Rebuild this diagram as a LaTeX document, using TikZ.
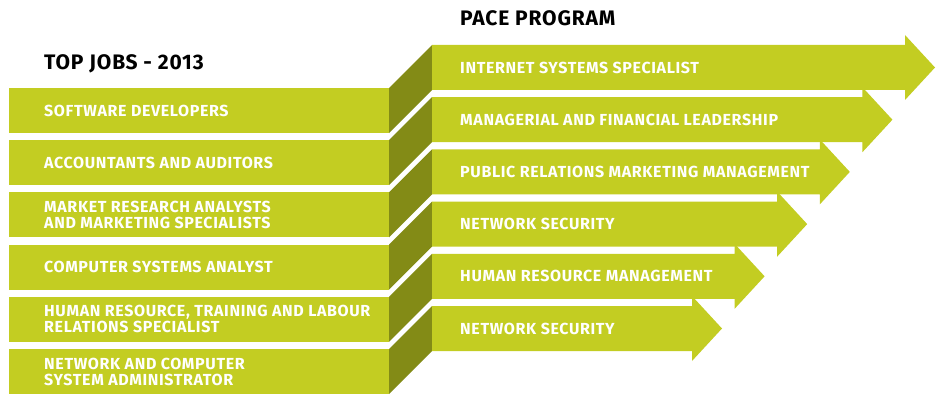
\documentclass[tikz,border=0pt]{standalone}
\usepackage{fontspec}
\setmainfont{Fira Sans}[LetterSpace=4]
\definecolor{limegreen}{RGB}{195,205,34}
\definecolor{olivedark}{RGB}{131,139,22}
\begin{document}
\begin{tikzpicture}[x=1pt,y=-1pt,
  boxtext/.style={anchor=west, text=white, font=\bfseries\fontsize{16}{16}\selectfont, align=left, inner sep=0pt},
  titletext/.style={anchor=west, text=black, font=\bfseries\fontsize{21}{22}\selectfont, inner sep=0pt},
  lbox/.style={fill=limegreen},
  sidepanel/.style={fill=olivedark},
  rarrow/.style={fill=limegreen}]
\useasboundingbox (0,0) rectangle (941,393);
\clip (0,0) rectangle (941,393);
\foreach \i in {0,...,5} {
  \pgfmathsetmacro\yl{88+52.2*\i}
  \pgfmathsetmacro\yr{\yl-43}
  \pgfmathsetmacro\xb{905-42.6*\i}
  \fill[lbox] (9,\yl) rectangle (389,\yl+45);
  \fill[sidepanel] (389,\yl) -- (432,\yr) -- (432,\yr+45) -- (389,\yl+45) -- cycle;
  \fill[rarrow] (432,\yr) -- (\xb,\yr) -- (\xb,\yr-10) -- (\xb+30,\yr+22.5) -- (\xb,\yr+55) -- (\xb,\yr+45) -- (432,\yr+45) -- cycle;
}
\node[titletext] (tjobs) at (44,64) {TOP JOBS - 2013};
\node[titletext] (tpace) at (460,18) {PACE PROGRAM};
\node[boxtext] (l1) at (44,110.5) {SOFTWARE DEVELOPERS};
\node[boxtext] (l2) at (44,162.7) {ACCOUNTANTS AND AUDITORS};
\node[boxtext] (l3) at (44,214.9) {MARKET RESEARCH ANALYSTS\\AND MARKETING SPECIALISTS};
\node[boxtext] (l4) at (44,267.1) {COMPUTER SYSTEMS ANALYST};
\node[boxtext] (l5) at (44,319.3) {HUMAN RESOURCE, TRAINING AND LABOUR\\RELATIONS SPECIALIST};
\node[boxtext] (l6) at (44,371.5) {NETWORK AND COMPUTER\\SYSTEM ADMINISTRATOR};
\node[boxtext] (r1) at (460,67.5) {INTERNET SYSTEMS SPECIALIST};
\node[boxtext] (r2) at (460,119.7) {MANAGERIAL AND FINANCIAL LEADERSHIP};
\node[boxtext] (r3) at (460,171.9) {PUBLIC RELATIONS MARKETING MANAGEMENT};
\node[boxtext] (r4) at (460,224.1) {NETWORK SECURITY};
\node[boxtext] (r5) at (460,276.3) {HUMAN RESOURCE MANAGEMENT};
\node[boxtext] (r6) at (460,328.5) {NETWORK SECURITY};
\end{tikzpicture}
\end{document}
